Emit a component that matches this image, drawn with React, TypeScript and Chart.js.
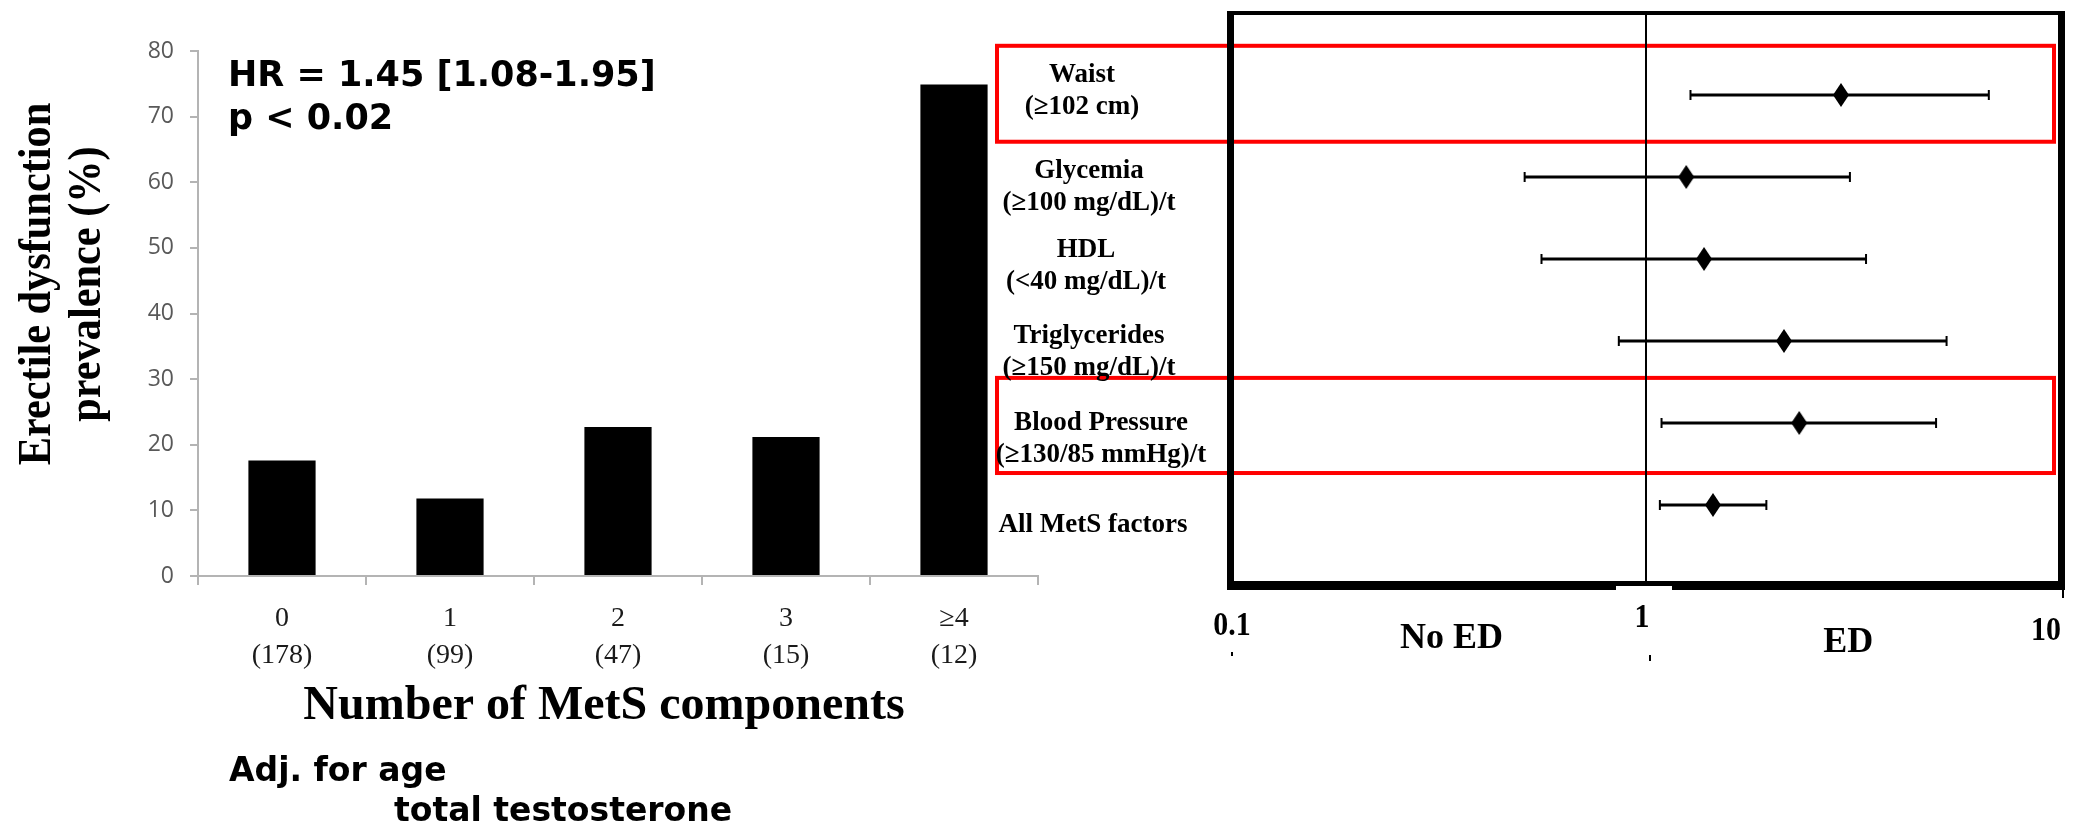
import React, { useEffect, useRef } from "react";
import { Chart, registerables } from "chart.js";

Chart.register(...registerables);

// ---------- Left panel data ----------
const categoryNumbers = ["0", "1", "2", "3", "≥4"];
const categoryCounts = ["(178)", "(99)", "(47)", "(15)", "(12)"];
const prevalence = [17.6, 11.8, 22.7, 21.2, 74.9];
const yAxisMin = 0;
const yAxisMax = 80;
const yAxisStep = 10;
const yTitleLines = ["Erectile dysfunction", "prevalence (%)"];
const xTitle = "Number of MetS components";
const hrLines = ["HR = 1.45 [1.08-1.95]", "p < 0.02"];
const adjLines = ["Adj. for age", "total testosterone"];

// ---------- Right panel (forest) data ----------
const factorNames = ["Waist", "Glycemia", "HDL", "Triglycerides", "Blood Pressure", "All MetS factors"];
const factorCriteria = ["(≥102 cm)", "(≥100 mg/dL)/t", "(<40 mg/dL)/t", "(≥150 mg/dL)/t", "(≥130/85 mmHg)/t", ""];
const hazardRatios = [2.95, 1.25, 1.38, 2.15, 2.34, 1.45];
const ciLower = [1.28, 0.51, 0.56, 0.86, 1.09, 1.08];
const ciUpper = [6.7, 3.1, 3.39, 5.3, 5.0, 1.95];
const highlightedRows = [0, 4];
const logTickValues = [0.1, 1, 10];
const logTickLabels = ["0.1", "1", "10"];
const sideLabels = ["No ED", "ED"];
const sideLabelValues = [0.34, 3.07];

const SERIF = '"Liberation Serif", "Times New Roman", serif';
const SANS = '"Open Sans", "Liberation Sans", Arial, sans-serif';
const ROUND = '"DejaVu Sans", sans-serif';

const leftPlugin = {
  id: "leftDecor",
  afterDraw(chart: any) {
    const ctx = chart.ctx;
    const xs = chart.scales.x;
    ctx.save();
    // rotated y title (slightly condensed)
    ctx.fillStyle = "#000";
    ctx.font = `bold 46px ${SERIF}`;
    ctx.textAlign = "center";
    ctx.textBaseline = "alphabetic";
    const cy = 284;
    const baseX = [50, 100];
    yTitleLines.forEach((t, i) => {
      ctx.save();
      ctx.translate(baseX[i], cy);
      ctx.rotate(-Math.PI / 2);
      ctx.scale(0.92, 1);
      ctx.fillText(t, 0, 0);
      ctx.restore();
    });
    // x title
    ctx.font = `bold 48px ${SERIF}`;
    ctx.textBaseline = "middle";
    ctx.fillText(xTitle, (xs.left + xs.right) / 2 - 14, 707);
    // HR annotation
    ctx.textBaseline = "alphabetic";
    ctx.textAlign = "left";
    ctx.font = `bold 35px ${ROUND}`;
    ctx.fillText(hrLines[0], 228, 86);
    ctx.fillText(hrLines[1], 228, 129);
    // Adjustment note
    ctx.font = `bold 33px ${ROUND}`;
    ctx.fillText(adjLines[0], 229, 781);
    ctx.fillText(adjLines[1], 394, 821);
    ctx.restore();
  },
};

function makeDiamond(): HTMLCanvasElement {
  const c = document.createElement("canvas");
  c.width = 16;
  c.height = 24;
  const g = c.getContext("2d")!;
  g.fillStyle = "#000";
  g.beginPath();
  g.moveTo(8, 0);
  g.lineTo(16, 12);
  g.lineTo(8, 24);
  g.lineTo(0, 12);
  g.closePath();
  g.fill();
  return c;
}

const forestPlugin = {
  id: "forestDecor",
  beforeDatasetsDraw(chart: any) {
    const ctx = chart.ctx;
    const xs = chart.scales.x;
    const ys = chart.scales.y;
    const { left, right, top, bottom } = chart.chartArea;
    ctx.save();
    // red highlight boxes
    ctx.strokeStyle = "#ff0000";
    ctx.lineWidth = 4;
    const boxTop = [-0.6, -0.55];
    const boxBottom = [0.57, 0.61];
    highlightedRows.forEach((r, k) => {
      const y1 = ys.getPixelForValue(r + boxTop[k]);
      const y2 = ys.getPixelForValue(r + boxBottom[k]);
      ctx.strokeRect(7, y1, right - 7 - 7, y2 - y1);
    });
    // reference line at HR = 1
    const x1 = xs.getPixelForValue(1);
    ctx.fillStyle = "#000";
    ctx.fillRect(x1 - 1, top, 2, bottom - top);
    // frame
    ctx.fillRect(left - 4, top - 2, 7, bottom - top + 5);
    ctx.fillRect(left - 4, top - 2, right - left + 8, 4);
    ctx.fillRect(right - 3, top - 2, 7, bottom - top + 5);
    ctx.fillRect(left - 4, bottom - 6, right - left + 8, 9);
    ctx.fillRect(right + 1, bottom, 2, 11);
    ctx.fillStyle = "#fff";
    ctx.fillRect(x1 - 30, bottom - 1, 56, 5);
    // error bars
    ctx.strokeStyle = "#000";
    hazardRatios.forEach((_, i) => {
      const y = ys.getPixelForValue(i);
      const a = xs.getPixelForValue(ciLower[i]);
      const b = xs.getPixelForValue(ciUpper[i]);
      ctx.lineWidth = 3;
      ctx.beginPath();
      ctx.moveTo(a, y);
      ctx.lineTo(b, y);
      ctx.stroke();
      ctx.lineWidth = 2;
      ctx.beginPath();
      ctx.moveTo(a, y - 5);
      ctx.lineTo(a, y + 5);
      ctx.moveTo(b, y - 5);
      ctx.lineTo(b, y + 5);
      ctx.stroke();
    });
    ctx.restore();
  },
  afterDraw(chart: any) {
    const ctx = chart.ctx;
    const xs = chart.scales.x;
    const ys = chart.scales.y;
    const { bottom } = chart.chartArea;
    ctx.save();
    ctx.fillStyle = "#000";
    ctx.textAlign = "center";
    ctx.textBaseline = "middle";
    ctx.font = `bold 27px ${SERIF}`;
    const firstOffsets = [-20, -6, -9, -5, 0, 20];
    const centers = [92, 99, 96, 99, 111, 103];
    factorNames.forEach((name, i) => {
      const y = ys.getPixelForValue(i) + firstOffsets[i];
      ctx.fillText(name, centers[i], y);
      if (factorCriteria[i]) ctx.fillText(factorCriteria[i], centers[i], y + 32);
    });
    // log axis labels (slightly condensed bold serif)
    ctx.font = `bold 34px ${SERIF}`;
    const dy = [39, 31, 44];
    logTickValues.forEach((v, i) => {
      const x = xs.getPixelForValue(v);
      ctx.save();
      if (i === logTickValues.length - 1) {
        ctx.translate(x, bottom + dy[i]);
        ctx.scale(0.88, 1);
        ctx.textAlign = "right";
        ctx.fillText(logTickLabels[i], 0, 0);
      } else {
        ctx.translate(x + (i === 1 ? -4 : 1), bottom + dy[i]);
        ctx.scale(0.88, 1);
        ctx.textAlign = "center";
        ctx.fillText(logTickLabels[i], 0, 0);
      }
      ctx.restore();
    });
    // tiny tick marks
    ctx.fillRect(xs.getPixelForValue(0.1), bottom + 65, 2, 4);
    ctx.fillRect(xs.getPixelForValue(1) + 3, bottom + 68, 2, 6);
    // side labels
    ctx.textAlign = "center";
    ctx.font = `bold 36px ${SERIF}`;
    const sdy = [52, 56];
    sideLabels.forEach((t, i) => {
      ctx.fillText(t, xs.getPixelForValue(sideLabelValues[i]), bottom + sdy[i]);
    });
    ctx.restore();
  },
};

export default function App() {
  const leftRef = useRef<HTMLCanvasElement>(null);
  const rightRef = useRef<HTMLCanvasElement>(null);

  useEffect(() => {
    const left = new Chart(leftRef.current!, {
      type: "bar",
      data: {
        labels: categoryNumbers.map((n, i) => [n, categoryCounts[i]]),
        datasets: [
          {
            data: prevalence,
            backgroundColor: "#000",
            borderWidth: 0,
            barPercentage: 0.4,
            categoryPercentage: 1,
          },
        ],
      },
      options: {
        responsive: false,
        animation: false,
        layout: { padding: { left: 0, right: 12, top: 51, bottom: 0 } },
        plugins: { legend: { display: false }, tooltip: { enabled: false } },
        scales: {
          x: {
            grid: {
              display: true,
              drawOnChartArea: false,
              drawTicks: true,
              tickLength: 9,
              color: "#b4b4b4",
              lineWidth: 2,
              offset: true,
            },
            border: { color: "#b4b4b4", width: 2 },
            ticks: {
              font: { family: SERIF, size: 28, lineHeight: 1.29 },
              color: "#1a1a1a",
              padding: 16,
              maxRotation: 0,
              autoSkip: false,
            },
            afterFit: (s: any) => {
              s.height = 260;
            },
          },
          y: {
            min: yAxisMin,
            max: yAxisMax,
            ticks: {
              stepSize: yAxisStep,
              font: { family: SANS, size: 23 },
              color: "#595959",
              padding: 16,
            },
            grid: { drawOnChartArea: false, tickLength: 8, color: "#b4b4b4", lineWidth: 2 },
            border: { color: "#b4b4b4", width: 2 },
            afterFit: (s: any) => {
              s.width = 198;
            },
          },
        },
      } as any,
      plugins: [leftPlugin],
    });

    const right = new Chart(rightRef.current!, {
      type: "scatter",
      data: {
        datasets: [
          {
            data: hazardRatios.map((v, i) => ({ x: v, y: i })),
            pointStyle: makeDiamond(),
            pointRadius: 12,
            backgroundColor: "#000",
            borderColor: "#000",
          },
        ],
      },
      options: {
        responsive: false,
        animation: false,
        layout: { padding: { left: 241, right: 12, top: 7, bottom: 249 } },
        plugins: { legend: { display: false }, tooltip: { enabled: false } },
        scales: {
          x: { type: "logarithmic", min: 0.1, max: 10, display: false },
          y: { type: "linear", min: -1, max: 6, reverse: true, display: false },
        },
      } as any,
      plugins: [forestPlugin],
    });

    return () => {
      left.destroy();
      right.destroy();
    };
  }, []);

  return (
    <div style={{ position: "absolute", left: 0, top: 0, width: 2074, height: 836, background: "#fff" }}>
      <canvas ref={leftRef} width={1050} height={836} style={{ position: "absolute", left: 0, top: 0 }} />
      <canvas ref={rightRef} width={1084} height={836} style={{ position: "absolute", left: 990, top: 0 }} />
    </div>
  );
}
